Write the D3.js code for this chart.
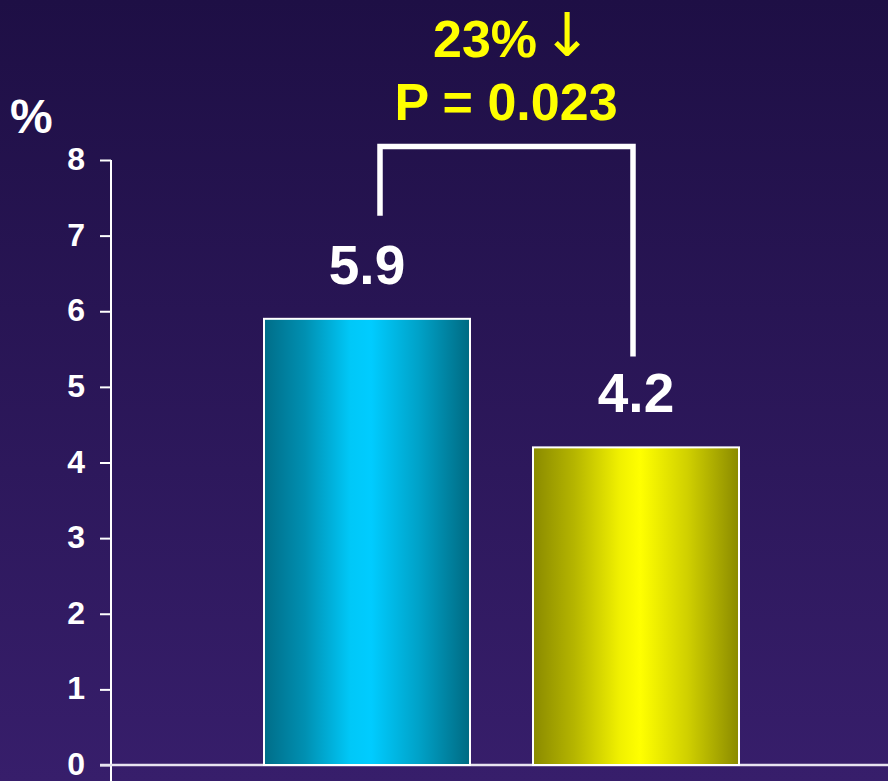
<!DOCTYPE html>
<html><head><meta charset="utf-8">
<script src="https://cdn.jsdelivr.net/npm/d3@7"></script>
<style>html,body{margin:0;padding:0;overflow:hidden;background:#2a1758}</style>
</head><body>
<script>
const categories = ["Group A", "Group B"];
const values = [5.9, 4.2];
const valueLabels = ["5.9", "4.2"];
const yTicks = [0, 1, 2, 3, 4, 5, 6, 7, 8];
const annotationLines = ["23%", "P = 0.023"];
const arrowGlyph = "\u2193";
const unitLabel = "%";

const W = 888, H = 781;
const svg = d3.select("body").append("svg").attr("width", W).attr("height", H);
const defs = svg.append("defs");

const bg = defs.append("linearGradient").attr("id","bg").attr("x1",0).attr("y1",0).attr("x2",0).attr("y2",1);
bg.append("stop").attr("offset","0%").attr("stop-color","#1e0f45");
bg.append("stop").attr("offset","100%").attr("stop-color","#371e6b");
svg.append("rect").attr("width",W).attr("height",H).attr("fill","url(#bg)");

const gradStops = [
  [["0%","#006d88"],["20%","#0090b2"],["42%","#00c8f8"],["52%","#00ccff"],["75%","#00a2c8"],["100%","#006a82"]],
  [["0%","#8a8a00"],["20%","#b5b500"],["42%","#f0f000"],["52%","#ffff00"],["75%","#d0d000"],["100%","#8a8a00"]]
];
gradStops.forEach((st,i)=>{
  const g = defs.append("linearGradient").attr("id","bar"+i).attr("x1",0).attr("y1",0).attr("x2",1).attr("y2",0);
  st.forEach(s=>g.append("stop").attr("offset",s[0]).attr("stop-color",s[1]));
});

const y = d3.scaleLinear().domain([0,8]).range([765,160]);
const x = d3.scaleBand().domain(categories).range([232.5,770.5]).paddingInner(0.2342).paddingOuter(0.1171);

const font = "'Liberation Sans', Arial, sans-serif";

// y axis
const ax = svg.append("g").attr("transform","translate(111,0)")
  .call(d3.axisLeft(y).tickValues(yTicks).tickFormat(d3.format("d")).tickSize(11).tickSizeOuter(0).tickPadding(15));
ax.select(".domain").remove();
ax.selectAll(".tick line").attr("stroke","#ffffff").attr("stroke-width",2);
ax.selectAll(".tick text").attr("fill","#ffffff").attr("font-family",font).attr("font-weight","bold").attr("font-size",32).attr("dy","0.3em");
svg.append("line").attr("x1",111).attr("x2",111).attr("y1",y(8)).attr("y2",H).attr("stroke","#ffffff").attr("stroke-width",2);
// x axis baseline
svg.append("line").attr("x1",100).attr("x2",W).attr("y1",y(0)).attr("y2",y(0)).attr("stroke","#e8e4f0").attr("stroke-width",2.5);

// bars
svg.selectAll("rect.bar").data(values).enter().append("rect").attr("class","bar")
  .attr("x",(d,i)=>x(categories[i])).attr("width",x.bandwidth())
  .attr("y",d=>y(d)).attr("height",d=>y(0)-y(d))
  .attr("fill",(d,i)=>"url(#bar"+i+")").attr("stroke","#ffffff").attr("stroke-width",2);

// value labels
svg.selectAll("text.val").data(values).enter().append("text").attr("class","val")
  .attr("x",(d,i)=>x(categories[i])+x.bandwidth()/2).attr("y",d=>y(d)-35)
  .attr("text-anchor","middle").attr("fill","#ffffff")
  .style("font-family",font).style("font-weight","bold").style("font-size","55px")
  .text((d,i)=>valueLabels[i]);

// bracket
const lx = x(categories[0]) + x.bandwidth()/2 + 13;
const rx = x(categories[1]) + x.bandwidth()/2 - 3;
const ty = y(8) - 13.5;
svg.append("path")
  .attr("d", d3.line()([[lx, y(values[0]) - 103],[lx, ty],[rx, ty],[rx, y(values[1]) - 91]]))
  .attr("fill","none").attr("stroke","#ffffff").attr("stroke-width",5.5).attr("stroke-linejoin","miter");

// annotation
svg.append("text").attr("x",433).attr("y",57).attr("fill","#ffff00")
  .style("font-family",font).style("font-weight","bold").style("font-size","52px").text(annotationLines[0]);
svg.append("text").attr("x",567).attr("y",56).attr("text-anchor","middle").attr("fill","#ffff00")
  .style("font-family","'DejaVu Sans', sans-serif").style("font-size","60px").text(arrowGlyph);
svg.append("text").attr("x",506).attr("y",120).attr("text-anchor","middle").attr("fill","#ffff00")
  .style("font-family",font).style("font-weight","bold").style("font-size","52px").text(annotationLines[1]);

// unit label
svg.append("text").attr("x",10).attr("y",133).attr("fill","#ffffff")
  .style("font-family",font).style("font-weight","bold").style("font-size","48px").text(unitLabel);
</script>
</body></html>
